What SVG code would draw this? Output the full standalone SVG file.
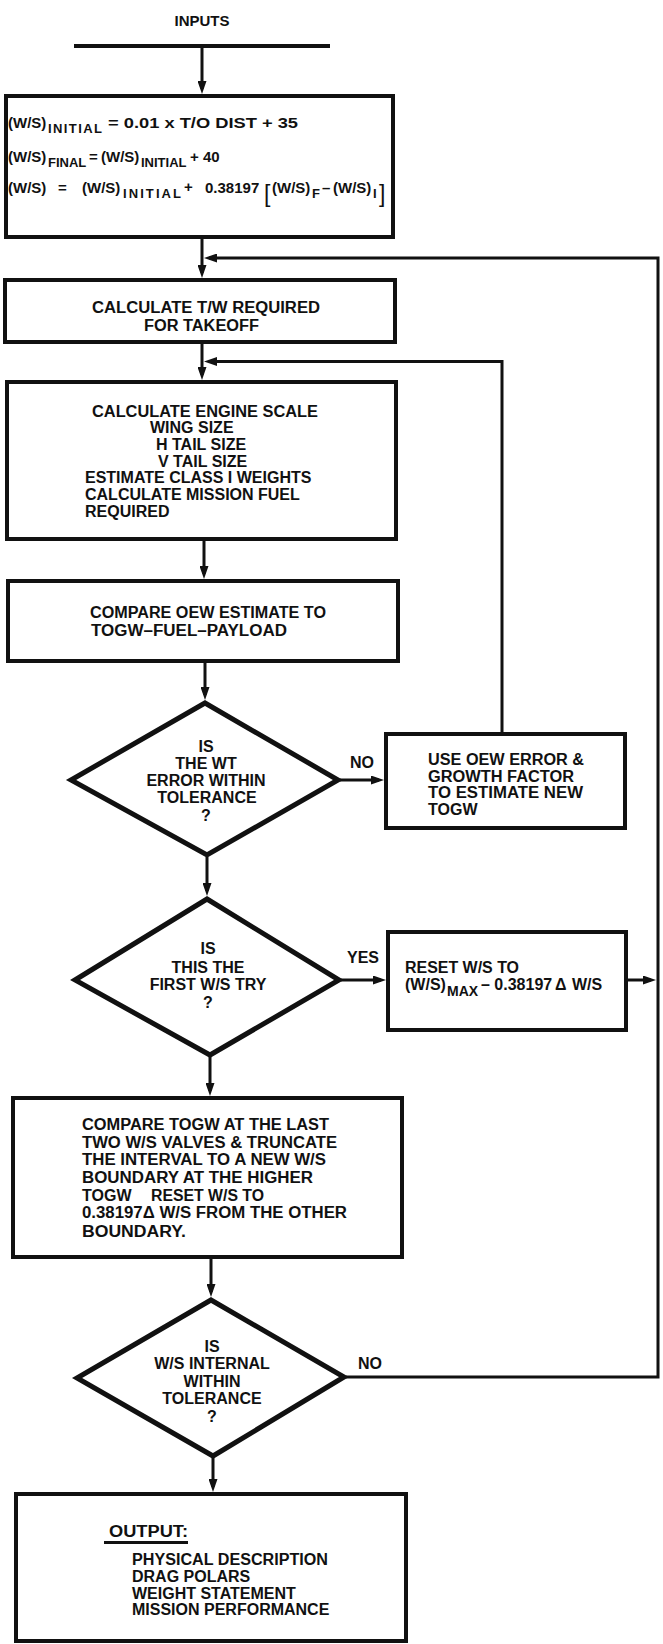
<svg xmlns="http://www.w3.org/2000/svg" width="663" height="1644" viewBox="0 0 663 1644">
  <defs>
    <style>
      .box { fill: #fff; stroke: #111; stroke-width: 4; }
      .dia { fill: #fff; stroke: #111; stroke-width: 5; stroke-linejoin: miter; }
      .ln { fill: none; stroke: #111; stroke-width: 3; }
      .bar { fill: none; stroke: #111; stroke-width: 4; }
      .t { font-family: "Liberation Sans", Arial, Helvetica, sans-serif; font-weight: bold; font-size: 16px; fill: #111; }
      .eq { font-size: 15px; }
      .sub { font-size: 13px; }
      .brk { font-size: 23px; font-weight: normal; }
      .mid { text-anchor: middle; }
    </style>
    <marker id="ah" markerUnits="userSpaceOnUse" markerWidth="13" markerHeight="9" refX="8" refY="4.5" orient="auto">
      <path d="M0,0 L13,4.5 L0,9 Z" fill="#111"/>
    </marker>
  </defs>

  <rect x="0" y="0" width="663" height="1644" fill="#fff"/>

  <!-- connectors -->
  <g id="connectors">
    <line class="bar" x1="74" y1="46" x2="330" y2="46"/>
    <line class="ln" x1="202" y1="46" x2="202" y2="89" marker-end="url(#ah)"/>
    <line class="ln" x1="202" y1="238" x2="202" y2="273" marker-end="url(#ah)"/>
    <line class="ln" x1="202" y1="342" x2="202" y2="375" marker-end="url(#ah)"/>
    <line class="ln" x1="204" y1="540" x2="204" y2="574" marker-end="url(#ah)"/>
    <line class="ln" x1="205" y1="661" x2="205" y2="695" marker-end="url(#ah)"/>
    <line class="ln" x1="207" y1="857" x2="207" y2="891" marker-end="url(#ah)"/>
    <line class="ln" x1="210" y1="1057" x2="210" y2="1091" marker-end="url(#ah)"/>
    <line class="ln" x1="211" y1="1257" x2="211" y2="1292" marker-end="url(#ah)"/>
    <line class="ln" x1="213" y1="1458" x2="213" y2="1487" marker-end="url(#ah)"/>
    <!-- NO branch of the weight check -->
    <line class="ln" x1="340" y1="780" x2="379" y2="780" marker-end="url(#ah)"/>
    <!-- YES branch of the first-try check -->
    <line class="ln" x1="341" y1="980" x2="381" y2="980" marker-end="url(#ah)"/>
    <line class="ln" x1="626" y1="980" x2="651" y2="980" marker-end="url(#ah)"/>
    <!-- TOGW loop back above the sizing box -->
    <path class="ln" d="M502,734 V361.5 H209" marker-end="url(#ah)"/>
    <!-- W/S loop back above the T/W box -->
    <path class="ln" d="M346,1377 H658 V258 H209" marker-end="url(#ah)"/>
  </g>

  <g id="inputs">
    <text class="t mid" x="202" y="26" style="font-size:15px">INPUTS</text>
  </g>

  <g id="n-initial">
    <rect class="box" x="6" y="96" width="387" height="141"/>
    <!-- line 1 -->
    <text class="t eq" x="8" y="128">(W/S)</text>
    <text class="t sub" x="48" y="133" textLength="54" lengthAdjust="spacing">INITIAL</text>
    <text class="t eq" x="108" y="128" textLength="190" lengthAdjust="spacingAndGlyphs">= 0.01 x T/O DIST + 35</text>
    <!-- line 2 -->
    <text class="t eq" x="8" y="162">(W/S)</text>
    <text class="t sub" x="48" y="167">FINAL</text>
    <text class="t eq" x="89" y="162">=</text>
    <text class="t eq" x="101" y="162">(W/S)</text>
    <text class="t sub" x="141" y="167">INITIAL</text>
    <text class="t eq" x="190" y="162">+ 40</text>
    <!-- line 3 -->
    <text class="t eq" x="8" y="193">(W/S)</text>
    <text class="t eq" x="58" y="193">=</text>
    <text class="t eq" x="82" y="193">(W/S)</text>
    <text class="t sub" x="123" y="198" textLength="58" lengthAdjust="spacing">INITIAL</text>
    <text class="t eq" x="184" y="192">+</text>
    <text class="t eq" x="205" y="193">0.38197</text>
    <text class="t brk" x="264" y="202">[</text>
    <text class="t eq" x="272" y="193">(W/S)</text>
    <text class="t sub" x="312" y="198">F</text>
    <text class="t eq" x="322" y="193">–</text>
    <text class="t eq" x="333" y="193">(W/S)</text>
    <text class="t sub" x="373" y="198">I</text>
    <text class="t brk" x="379" y="202">]</text>
  </g>

  <g id="n-tw">
    <rect class="box" x="5" y="280" width="390" height="62"/>
    <text class="t" x="92" y="313" textLength="228" lengthAdjust="spacingAndGlyphs">CALCULATE T/W REQUIRED</text>
    <text class="t" x="144" y="331" textLength="115" lengthAdjust="spacingAndGlyphs">FOR TAKEOFF</text>
  </g>

  <g id="n-sizing">
    <rect class="box" x="7" y="382" width="389" height="157"/>
    <text class="t" x="92" y="417" textLength="226" lengthAdjust="spacingAndGlyphs">CALCULATE ENGINE SCALE</text>
    <text class="t" x="150" y="433">WING SIZE</text>
    <text class="t" x="156" y="450">H TAIL SIZE</text>
    <text class="t" x="158" y="467">V TAIL SIZE</text>
    <text class="t" x="85" y="483">ESTIMATE CLASS I WEIGHTS</text>
    <text class="t" x="85" y="500">CALCULATE MISSION FUEL</text>
    <text class="t" x="85" y="517">REQUIRED</text>
  </g>

  <g id="n-compare-oew">
    <rect class="box" x="8" y="581" width="390" height="80"/>
    <text class="t" x="90" y="618" textLength="236" lengthAdjust="spacingAndGlyphs">COMPARE OEW ESTIMATE TO</text>
    <text class="t" x="91" y="636" textLength="196" lengthAdjust="spacingAndGlyphs">TOGW–FUEL–PAYLOAD</text>
  </g>

  <g id="d-weight">
    <polygon class="dia" points="205,703 338,780 207,855 71,780"/>
    <text class="t mid" x="206" y="752">IS</text>
    <text class="t mid" x="206" y="769">THE WT</text>
    <text class="t mid" x="206" y="786">ERROR WITHIN</text>
    <text class="t mid" x="207" y="803">TOLERANCE</text>
    <text class="t mid" x="206" y="821">?</text>
    <text class="t" x="350" y="768">NO</text>
  </g>

  <g id="n-new-togw">
    <rect class="box" x="386" y="734" width="239" height="94"/>
    <text class="t" x="428" y="765" textLength="156" lengthAdjust="spacingAndGlyphs">USE OEW ERROR &amp;</text>
    <text class="t" x="428" y="782" textLength="146" lengthAdjust="spacingAndGlyphs">GROWTH FACTOR</text>
    <text class="t" x="428" y="798" textLength="155" lengthAdjust="spacingAndGlyphs">TO ESTIMATE NEW</text>
    <text class="t" x="428" y="815">TOGW</text>
  </g>

  <g id="d-first">
    <polygon class="dia" points="207,899 339,980 210,1055 75,980"/>
    <text class="t mid" x="208" y="954">IS</text>
    <text class="t mid" x="208" y="973">THIS THE</text>
    <text class="t mid" x="208" y="990">FIRST W/S TRY</text>
    <text class="t mid" x="208" y="1008">?</text>
    <text class="t" x="347" y="963">YES</text>
  </g>

  <g id="n-reset">
    <rect class="box" x="388" y="932" width="238" height="98"/>
    <text class="t" x="405" y="973" textLength="114" lengthAdjust="spacingAndGlyphs">RESET W/S TO</text>
    <text class="t" x="405" y="990">(W/S)</text>
    <text class="t" x="447" y="996" style="font-size:14px">MAX</text>
    <text class="t" x="481" y="990">– 0.38197</text>
    <text class="t" x="555" y="990">Δ</text>
    <text class="t" x="572" y="990">W/S</text>
  </g>

  <g id="n-truncate">
    <rect class="box" x="13" y="1098" width="389" height="159"/>
    <text class="t" x="82" y="1130" textLength="247" lengthAdjust="spacingAndGlyphs">COMPARE TOGW AT THE LAST</text>
    <text class="t" x="82" y="1147.5" textLength="255" lengthAdjust="spacingAndGlyphs">TWO W/S VALVES &amp; TRUNCATE</text>
    <text class="t" x="82" y="1165" textLength="244" lengthAdjust="spacingAndGlyphs">THE INTERVAL TO A NEW W/S</text>
    <text class="t" x="82" y="1183" textLength="231" lengthAdjust="spacingAndGlyphs">BOUNDARY AT THE HIGHER</text>
    <text class="t" x="82" y="1200.5">TOGW</text>
    <text class="t" x="151" y="1200.5" textLength="113" lengthAdjust="spacingAndGlyphs">RESET W/S TO</text>
    <text class="t" x="82" y="1218" textLength="265" lengthAdjust="spacingAndGlyphs">0.38197Δ  W/S FROM THE OTHER</text>
    <text class="t" x="82" y="1236.5" textLength="104" lengthAdjust="spacingAndGlyphs">BOUNDARY.</text>
  </g>

  <g id="d-interval">
    <polygon class="dia" points="211,1300 344,1377 213,1456 77,1378"/>
    <text class="t mid" x="212" y="1351.5">IS</text>
    <text class="t mid" x="212" y="1368.5">W/S INTERNAL</text>
    <text class="t mid" x="212" y="1386.5">WITHIN</text>
    <text class="t mid" x="212" y="1403.5">TOLERANCE</text>
    <text class="t mid" x="212" y="1421.5">?</text>
    <text class="t" x="358" y="1369">NO</text>
  </g>

  <g id="n-output">
    <rect class="box" x="16" y="1494" width="390" height="147"/>
    <text class="t" x="109" y="1537" textLength="79" lengthAdjust="spacingAndGlyphs">OUTPUT:</text>
    <line x1="104" y1="1542.5" x2="188" y2="1542.5" stroke="#111" stroke-width="3"/>
    <text class="t" x="132" y="1565" textLength="196" lengthAdjust="spacingAndGlyphs">PHYSICAL DESCRIPTION</text>
    <text class="t" x="132" y="1582">DRAG POLARS</text>
    <text class="t" x="132" y="1598.5">WEIGHT STATEMENT</text>
    <text class="t" x="132" y="1615">MISSION PERFORMANCE</text>
  </g>
</svg>
